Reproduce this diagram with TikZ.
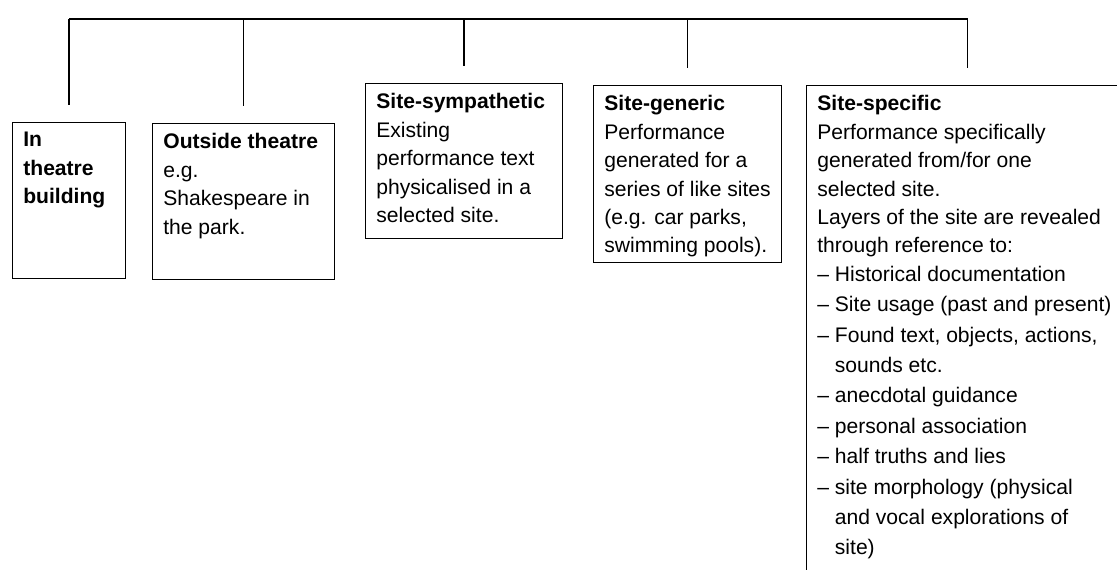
\documentclass[tikz,border=0pt]{standalone}
\usepackage{fontspec}
\setmainfont{Liberation Sans}
\begin{document}
\begin{tikzpicture}[x=0.02cm, y=-0.02cm,
    box/.style={draw, line width=0.8pt, anchor=north west, inner sep=0pt},
    txt/.style={anchor=north west, align=left, inner xsep=0.22cm, inner ysep=0.2cm,
      font=\fontsize{12}{16.2}\selectfont},
    link/.style={line width=0.8pt}]
    \clip (0,0) rectangle (1117,570);
    \node[box, minimum width=2.26cm, minimum height=3.12cm] (b1) at (12,122) {};
    \node[box, minimum width=3.64cm, minimum height=3.12cm] (b2) at (152,123) {};
    \node[box, minimum width=3.94cm, minimum height=3.10cm] (b3) at (365,83) {};
    \node[box, minimum width=3.76cm, minimum height=3.54cm] (b4) at (593,85) {};
    \node[box, minimum width=6.44cm, minimum height=10.3cm] (b5) at (806,85) {};
    \node[txt] (t1) at (b1.north west) {\textbf{In}\\\textbf{theatre}\\\textbf{building}};
    \node[txt] (t2) at (b2.north west) {\textbf{Outside theatre}\\e.g.\\Shakespeare in\\the park.};
    \node[txt] (t3) at (b3.north west) {\textbf{Site-sympathetic}\\Existing\\performance text\\physicalised in a\\selected site.};
    \node[txt] (t4) at (b4.north west) {\textbf{Site-generic}\\Performance\\generated for a\\series of like sites\\(e.g. car parks,\\swimming pools).};
    \node[txt] (t5) at (b5.north west) {\textbf{Site-specific}\\Performance specifically\\generated from/for one\\selected site.\\Layers of the site are revealed\\through reference to:\\
      – Historical documentation\\[1.1pt]– Site usage (past and present)\\[1.1pt]– Found text, objects, actions,\\[1.1pt]\phantom{– }sounds etc.\\[1.1pt]
      – anecdotal guidance\\[1.1pt]– personal association\\[1.1pt]– half truths and lies\\[1.1pt]– site morphology (physical\\[1.1pt]\phantom{– }and vocal explorations of\\[1.1pt]\phantom{– }site)};
    \coordinate (bus) at (0,19);
    \draw[link] (b1.north |- bus) -- (b5.north |- bus);
    \foreach \b in {b1,b2,b3,b4,b5}
      \draw[link] (\b.north |- bus) -- ([yshift=0.34cm]\b.north);
\end{tikzpicture}
\end{document}
